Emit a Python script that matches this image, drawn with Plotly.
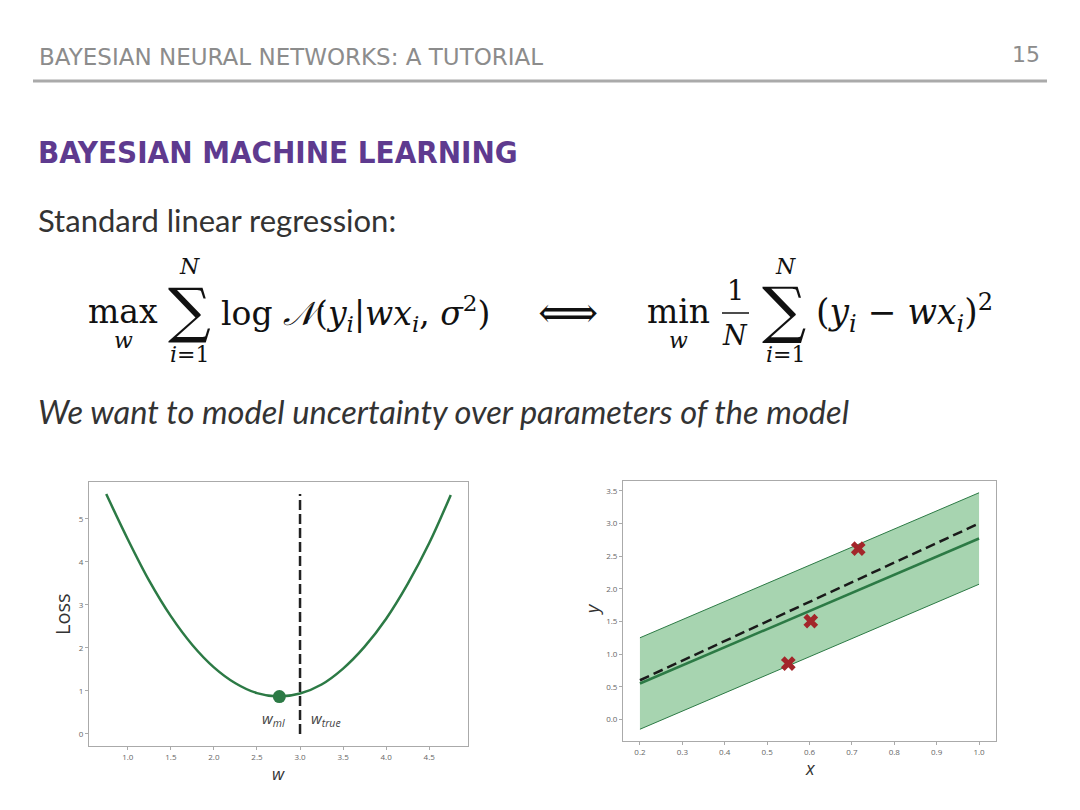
import plotly.graph_objects as go

# ---------------- data ----------------
# left chart: loss curve vs weight w
loss_w = [0.75, 1.0, 1.25, 1.5, 1.75, 2.0, 2.25, 2.5, 2.75, 3.0, 3.25, 3.5, 3.75, 4.0, 4.25, 4.5, 4.75]
loss_vals = [5.58, 4.53, 3.56, 2.74, 2.07, 1.55, 1.18, 0.95, 0.87, 0.94, 1.15, 1.52, 2.03, 2.68, 3.49, 4.44, 5.56]
w_ml = 2.76
loss_ml = 0.87
w_true = 3.0
w_true_line_y = [0.0, 5.58]

# right chart: regression fit
fit_x = [0.2, 1.0]
fit_mean = [0.55, 2.77]
fit_upper = [1.25, 3.47]
fit_lower = [-0.15, 2.07]
true_line = [0.60, 3.00]
obs_x = [0.550, 0.603, 0.715]
obs_y = [0.855, 1.505, 2.615]

left_xticks = [1.0, 1.5, 2.0, 2.5, 3.0, 3.5, 4.0, 4.5]
left_yticks = [0, 1, 2, 3, 4, 5]
right_xticks = [0.2, 0.3, 0.4, 0.5, 0.6, 0.7, 0.8, 0.9, 1.0]
right_yticks = [0.0, 0.5, 1.0, 1.5, 2.0, 2.5, 3.0, 3.5]

# ---------------- styles ----------------
W, H = 1080, 810
GREEN = "#2c7a45"
FILL = "rgba(60,160,80,0.45)"
RED = "#a3262a"
TEXT = "#333333"
GRAY = "#8c8c8c"
PURPLE = "#5e3a8f"
TICKF = dict(family="Open Sans", size=8, color="#666666")


def px(x):
    return x / W


def py(y):
    return 1 - y / H


fig = go.Figure()

# left chart
fig.add_trace(go.Scatter(x=loss_w, y=loss_vals, mode="lines", line=dict(color=GREEN, width=2.5, shape="spline"),
                         xaxis="x", yaxis="y", showlegend=False))
fig.add_trace(go.Scatter(x=[w_true, w_true], y=w_true_line_y, mode="lines",
                         line=dict(color="#222222", width=2.5, dash="10px,4px"), xaxis="x", yaxis="y",
                         showlegend=False))
fig.add_trace(go.Scatter(x=[w_ml], y=[loss_ml], mode="markers", marker=dict(color=GREEN, size=13),
                         xaxis="x", yaxis="y", showlegend=False))

# right chart
fig.add_trace(go.Scatter(x=fit_x, y=fit_lower, mode="lines", line=dict(color=GREEN, width=1),
                         xaxis="x2", yaxis="y2", showlegend=False))
fig.add_trace(go.Scatter(x=fit_x, y=fit_upper, mode="lines", line=dict(color=GREEN, width=1), fill="tonexty",
                         fillcolor=FILL, xaxis="x2", yaxis="y2", showlegend=False))
fig.add_trace(go.Scatter(x=fit_x, y=fit_mean, mode="lines", line=dict(color=GREEN, width=2.5),
                         xaxis="x2", yaxis="y2", showlegend=False))
fig.add_trace(go.Scatter(x=fit_x, y=true_line, mode="lines",
                         line=dict(color="#1a1a1a", width=2.5, dash="10px,5px"),
                         xaxis="x2", yaxis="y2", showlegend=False))
fig.add_trace(go.Scatter(x=obs_x, y=obs_y, mode="markers",
                         marker=dict(symbol="x", size=13, color=RED, line=dict(width=0)),
                         xaxis="x2", yaxis="y2", showlegend=False))

axis_common = dict(showline=True, linecolor="#aaaaaa", linewidth=1, mirror=True, showgrid=False, zeroline=False,
                   ticks="outside", ticklen=3, tickcolor="#aaaaaa", tickfont=TICKF)

fig.update_layout(
    width=W, height=H, autosize=False,
    margin=dict(l=0, r=0, t=0, b=0),
    paper_bgcolor="white", plot_bgcolor="white",
    showlegend=False,
    xaxis=dict(domain=[px(89), px(468)], range=[0.55, 4.95], tickvals=left_xticks, tickformat=".1f",
               anchor="y", **axis_common),
    yaxis=dict(domain=[py(746), py(482)], range=[-0.28, 5.86], tickvals=left_yticks, anchor="x", **axis_common),
    xaxis2=dict(domain=[px(623), px(996)], range=[0.16, 1.04], tickvals=right_xticks, tickformat=".1f",
                anchor="y2", **axis_common),
    yaxis2=dict(domain=[py(741), py(481)], range=[-0.33, 3.65], tickvals=right_yticks, tickformat=".1f",
                anchor="x2", **axis_common),
)

anns = []


def ann(text, x, y, size, family, color=TEXT, xanchor="center", yanchor="middle", textangle=0):
    anns.append(dict(text=text, x=px(x), y=py(y), xref="paper", yref="paper", showarrow=False,
                     xanchor=xanchor, yanchor=yanchor, textangle=textangle,
                     font=dict(size=size, family=family, color=color)))


# header
ann("BAYESIAN NEURAL NETWORKS: A TUTORIAL", 37, 57, 23, "DejaVu Sans", color=GRAY, xanchor="left")
ann("15", 1042, 55, 22, "DejaVu Sans", color=GRAY, xanchor="right")
ann("<b>BAYESIAN MACHINE LEARNING</b>", 36, 152, 31, "DejaVu Sans Condensed, Roboto", color=PURPLE,
    xanchor="left")
ann("Standard linear regression:", 36, 220, 31, "Lato", xanchor="left")
ann("<i>We want to model uncertainty over parameters of the model</i>", 36, 411, 32.6, "Lato", xanchor="left")

# equation
SER = "DejaVu Serif"
EQC = "#111111"
ann("max", 123, 311, 33, SER, color=EQC)
ann("<i>w</i>", 123, 341, 22, SER, color=EQC)
ann("∑", 189, 310, 60, SER, color=EQC)
ann("<i>N</i>", 189, 266, 22, SER, color=EQC)
ann("<i>i</i>=1", 189, 354, 22, SER, color=EQC)
ann("log <i>𝒩</i>(<i>y<sub>i</sub></i>|<i>wx<sub>i</sub></i>, <i>σ</i><sup>2</sup>)", 219, 313, 33, SER,
    color=EQC, xanchor="left")
ann("⟺", 568, 312, 42, SER, color=EQC)
ann("min", 678, 311, 33, SER, color=EQC)
ann("<i>w</i>", 678, 341, 22, SER, color=EQC)
ann("1", 735, 290, 27, SER, color=EQC)
ann("<i>N</i>", 735, 336, 27, SER, color=EQC)
ann("∑", 784, 310, 62, SER, color=EQC)
ann("<i>N</i>", 785, 266, 22, SER, color=EQC)
ann("<i>i</i>=1", 785, 354, 22, SER, color=EQC)
ann("(<i>y<sub>i</sub></i> − <i>wx<sub>i</sub></i>)<sup>2</sup>", 814, 313, 34.5, SER, color=EQC, xanchor="left")

# chart labels
ann("Loss", 62, 614, 20, "Open Sans", textangle=-90)
ann("<i>w</i>", 278, 773, 17, "Open Sans")
ann("<i>w<sub>ml</sub></i>", 273, 719, 15, "Open Sans", color="#444444")
ann("<i>w<sub>true</sub></i>", 326, 719, 15, "Open Sans", color="#444444")
ann("<i>y</i>", 592, 609, 18, "Open Sans", textangle=-90)
ann("<i>x</i>", 810, 768, 18, "Open Sans")

fig.update_layout(annotations=anns)

fig.add_shape(type="line", xref="paper", yref="paper", x0=px(33), x1=px(1047), y0=py(81), y1=py(81),
              line=dict(color="#aaaaaa", width=3))
fig.add_shape(type="line", xref="paper", yref="paper", x0=px(722), x1=px(749), y0=py(313), y1=py(313),
              line=dict(color=EQC, width=1.5))

fig.write_html("out.html", config={"displayModeBar": False},
               post_script="document.body.style.margin='0';")
